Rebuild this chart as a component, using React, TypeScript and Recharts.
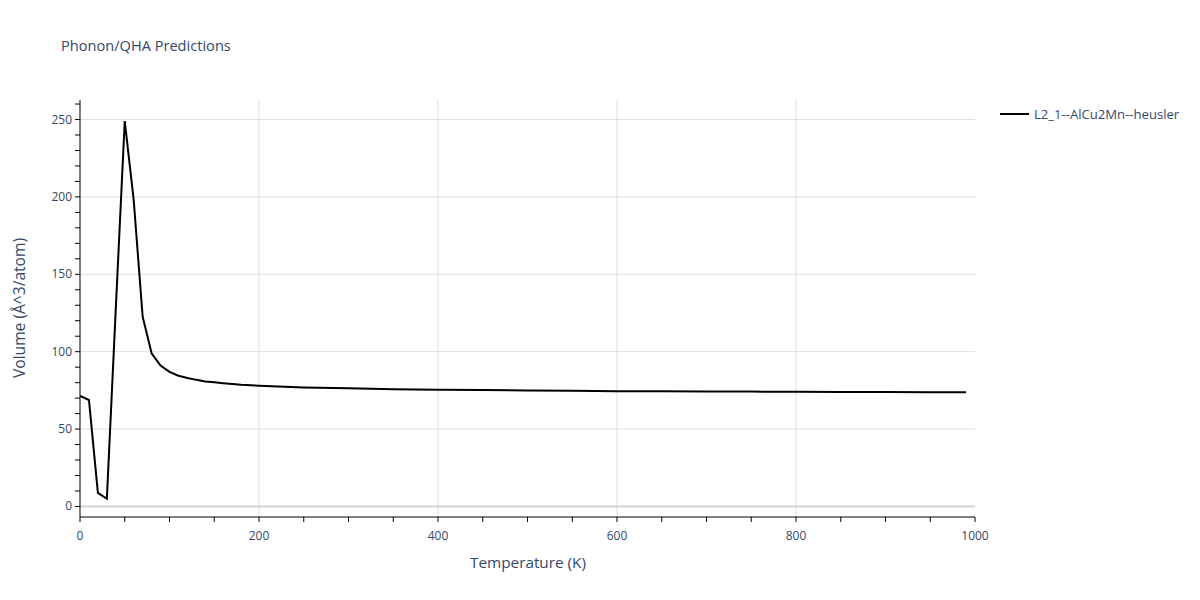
import React from 'react';
import { LineChart, Line, XAxis, YAxis, ReferenceLine } from 'recharts';

// temperature (K) and volume (Å^3/atom)
const temperatures = [
  0, 10, 20, 30, 40, 50, 60, 70, 80, 90, 100, 110, 120, 130, 140, 150, 160, 170, 180, 200,
  250, 300, 350, 400, 450, 500, 550, 600, 650, 700, 750, 800, 850, 900, 950, 990,
];
const volumes = [
  71.5, 68.8, 8.8, 5.0, 128, 249, 198, 122.6, 99, 91, 87, 84.5, 83, 81.8, 80.8, 80.2, 79.6, 79.1, 78.6, 78.0,
  76.9, 76.4, 75.8, 75.4, 75.2, 74.9, 74.7, 74.5, 74.4, 74.3, 74.2, 74.1, 74.0, 73.9, 73.85, 73.8,
];
const seriesName = 'L2_1--AlCu2Mn--heusler';

const xTicks = [0, 50, 100, 150, 200, 250, 300, 350, 400, 450, 500, 550, 600, 650, 700, 750, 800, 850, 900, 950, 1000];
const xLabelTicks = [0, 200, 400, 600, 800, 1000];
const xGrid = [200, 400, 600, 800];
const yTicks = [0, 10, 20, 30, 40, 50, 60, 70, 80, 90, 100, 110, 120, 130, 140, 150, 160, 170, 180, 190, 200, 210, 220, 230, 240, 250, 260];
const yLabelTicks = [0, 50, 100, 150, 200, 250];
const yGrid = [50, 100, 150, 200, 250];

const data = temperatures.map((t, i) => ({ temperature: t, volume: volumes[i] }));

const textColor = '#34486a';
const font = '"Open Sans", "Noto Sans", sans-serif';

const XTick = (props: any) => {
  const { x, y, payload } = props;
  return (
    <g>
      <line x1={x} x2={x} y1={y} y2={y + 5} stroke="#000" />
      {xLabelTicks.includes(payload.value) && (
        <text x={x} y={y + 23} textAnchor="middle" fill={textColor} fontSize={12} fontFamily={font}>
          {payload.value}
        </text>
      )}
    </g>
  );
};

const YTick = (props: any) => {
  const { x, y, payload } = props;
  return (
    <g>
      <line x1={x - 5} x2={x} y1={y} y2={y} stroke="#000" />
      {yLabelTicks.includes(payload.value) && (
        <text x={x - 8} y={y + 4} textAnchor="end" fill={textColor} fontSize={12} fontFamily={font}>
          {payload.value}
        </text>
      )}
    </g>
  );
};

const App: React.FC = () => {
  return (
    <div style={{ position: 'absolute', left: 0, top: 0, width: 1200, height: 600, background: '#fff', fontFamily: font }}>
      <div style={{ position: 'absolute', left: 61, top: 35, fontSize: 14.6, color: textColor }}>Phonon/QHA Predictions</div>

      <LineChart width={1200} height={600} data={data} margin={{ top: 100, right: 225, bottom: 53, left: 30 }}>
        {xGrid.map((v) => (
          <ReferenceLine key={'gx' + v} x={v} stroke="#dedede" strokeWidth={1} />
        ))}
        {yGrid.map((v) => (
          <ReferenceLine key={'gy' + v} y={v} stroke="#dedede" strokeWidth={1} />
        ))}
        <ReferenceLine y={0} stroke="#d4d4d4" strokeWidth={2} />
        <XAxis
          dataKey="temperature"
          type="number"
          domain={[0, 1000]}
          ticks={xTicks}
          interval={0}
          height={30}
          tickSize={0}
          tickMargin={0}
          tickLine={false}
          axisLine={{ stroke: '#000' }}
          tick={<XTick />}
          allowDataOverflow
        />
        <YAxis
          type="number"
          domain={[-6.8, 262.6]}
          ticks={yTicks}
          interval={0}
          width={50}
          tickSize={0}
          tickMargin={0}
          tickLine={false}
          axisLine={{ stroke: '#000' }}
          tick={<YTick />}
          allowDataOverflow
        />
        <Line
          type="linear"
          dataKey="volume"
          name={seriesName}
          stroke="#000"
          strokeWidth={2}
          dot={false}
          isAnimationActive={false}
        />
      </LineChart>

      <div style={{ position: 'absolute', left: 428, top: 552, width: 200, textAlign: 'center', fontSize: 15.3, color: textColor, whiteSpace: 'nowrap' }}>
        Temperature (K)
      </div>
      <div
        style={{
          position: 'absolute',
          left: 19,
          top: 308,
          transform: 'translate(-50%, -50%) rotate(-90deg)',
          fontSize: 15.6,
          color: textColor,
          whiteSpace: 'nowrap',
        }}
      >
        Volume (Å^3/atom)
      </div>

      <div style={{ position: 'absolute', left: 1000, top: 105, display: 'flex', alignItems: 'center', fontSize: 13.1, color: textColor }}>
        <svg width={30} height={16} style={{ marginRight: 4 }}>
          <line x1={0} x2={29} y1={8} y2={8} stroke="#000" strokeWidth={2} />
        </svg>
        <span>{seriesName}</span>
      </div>
    </div>
  );
};

export default App;
